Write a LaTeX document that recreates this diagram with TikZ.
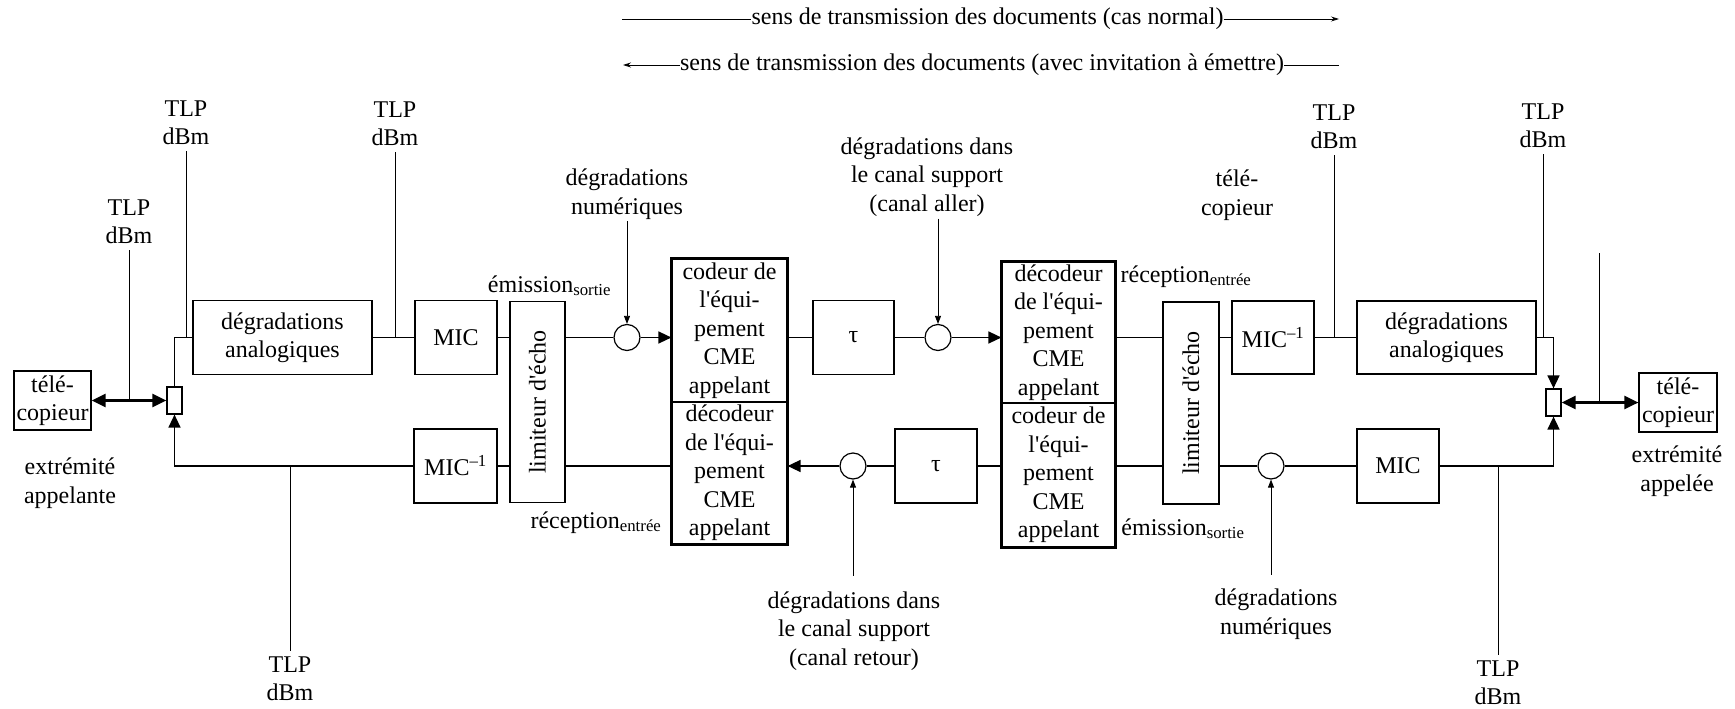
\documentclass[tikz,border=0pt]{standalone}
\usepackage{fontspec}
\setmainfont{Liberation Serif}
\usetikzlibrary{arrows.meta}
\newcommand{\apos}{\textquotesingle}

\begin{document}
\begin{tikzpicture}[x=1pt, y=-1pt,
        every node/.style={font=\fontsize{24}{28.5}\selectfont, align=center, inner sep=2pt},
        caja/.style={draw, line width=1.2pt, inner sep=0pt},
        suma/.style={draw, circle, line width=1.2pt, minimum size=26pt, inner sep=0pt},
        tlp/.style={inner sep=6pt},
        senal/.style={line width=1.5pt},
        fina/.style={line width=0.8pt},
        punta/.style={-{Triangle[length=13pt, width=12pt]}},
        puntita/.style={-{Triangle[length=8pt, width=6pt]}},
        doble/.style={line width=2.5pt, {Triangle[length=14pt, width=13pt]}-{Triangle[length=14pt, width=13pt]}},
        cme/.style={line width=3.5pt}]
        % Definiciones
        \def\filaA{337.5}
        \def\filaB{466}
        \useasboundingbox (0,0) rectangle (1735,709);
        % Sentido de transmision
        \node[inner sep=0pt] (sensNormal) at (987.5,19) {sens de transmission des documents (cas normal)};
        \coordinate (sensNormalA) at (622,19);
        \coordinate (sensNormalB) at (1339,19);
        \draw[fina] (sensNormalA) -- (sensNormal.west);
        \draw[fina, -{Stealth[length=8pt, width=5pt]}] (sensNormal.east) -- (sensNormalB);
        \node[inner sep=0pt] (sensInvit) at (982,65) {sens de transmission des documents (avec invitation à émettre)};
        \coordinate (sensInvitA) at (623,65);
        \coordinate (sensInvitB) at (1339,65);
        \draw[fina, -{Stealth[length=8pt, width=5pt]}] (sensInvit.west) -- (sensInvitA);
        \draw[fina] (sensInvit.east) -- (sensInvitB);
        % Extremo llamante
        \node[caja, minimum width=77pt, minimum height=59pt] (faxG) at (52.5,400.5) {télé-\\copieur};
        \node (extrG) at (70,483) {extrémité\\appelante};
        \node[caja, minimum width=15pt, minimum height=27pt] (hybG) at (174.5,400.5) {};
        \draw[doble] (faxG.east) -- (hybG.west);
        \node[caja, minimum width=179pt, minimum height=74pt] (degG) at (282.5,\filaA) {dégradations\\analogiques};
        \node[caja, minimum width=82pt, minimum height=74pt] (micG) at (456,\filaA) {MIC};
        \node[caja, minimum width=83pt, minimum height=74pt] (micInvG) at (455.5,\filaB) {MIC\textsuperscript{–1}};
        \node[caja, minimum width=55pt, minimum height=201pt] (limG) at (537.5,402) {};
        \node[rotate=90] at (limG) {limiteur d\apos écho};
        \node[anchor=base] (emisG) at (549.5,292) {émission\textsubscript{sortie}};
        \node[anchor=base] (recG) at (596,528) {réception\textsubscript{entrée}};
        % Equipo CME llamante
        \node[caja, minimum width=115pt, minimum height=143pt] (codG) at (729.5,330.5) {codeur de\\l\apos équi-\\pement\\CME\\appelant};
        \node[caja, minimum width=115pt, minimum height=142pt] (decG) at (729.5,473) {décodeur\\de l\apos équi-\\pement\\CME\\appelant};
        \draw[cme] (codG.north west) rectangle (decG.south east);
        \node[suma] (cirH1) at (627,\filaA) {};
        \node (numG) at (627,194) {dégradations\\numériques};
        \draw[fina, puntita] (numG.south) -- (cirH1.north);
        % Canal soporte
        \node[caja, minimum width=81pt, minimum height=74pt] (tauH) at (853.5,\filaA) {τ};
        \node[suma] (cirH2) at (938,\filaA) {};
        \node (canalAller) at (927,177) {dégradations dans\\le canal support\\(canal aller)};
        \draw[fina, puntita] (canalAller.south -| cirH2) -- (cirH2.north);
        \node[caja, minimum width=82pt, minimum height=74pt] (tauB) at (936,\filaB) {τ};
        \node[suma] (cirB1) at (853,\filaB) {};
        \node[outer ysep=14pt] (canalRetour) at (854,631) {dégradations dans\\le canal support\\(canal retour)};
        \draw[fina, puntita] (canalRetour.north -| cirB1) -- (cirB1.south);
        % Equipo CME llamado
        \node[caja, minimum width=113pt, minimum height=141pt] (decD) at (1058.5,332.5) {décodeur\\de l\apos équi-\\pement\\CME\\appelant};
        \node[caja, minimum width=113pt, minimum height=144pt] (codD) at (1058.5,475) {codeur de\\l\apos équi-\\pement\\CME\\appelant};
        \draw[cme] (decD.north west) rectangle (codD.south east);
        \node[caja, minimum width=56pt, minimum height=202pt] (limD) at (1191,403) {};
        \node[rotate=90] at (limD) {limiteur d\apos écho};
        \node[anchor=base] (recD) at (1186,282) {réception\textsubscript{entrée}};
        \node[anchor=base] (emisD) at (1183,535) {émission\textsubscript{sortie}};
        \node (copieurD) at (1237,195) {télé-\\copieur};
        \node[suma] (cirB2) at (1271,\filaB) {};
        \node[outer ysep=12pt] (numD) at (1276,614) {dégradations\\numériques};
        \draw[fina, puntita] (numD.north -| cirB2) -- (cirB2.south);
        % Extremo llamado
        \node[caja, minimum width=82pt, minimum height=73pt] (micInvD) at (1273,\filaA) {MIC\textsuperscript{–1}};
        \node[caja, minimum width=179pt, minimum height=73pt] (degD) at (1446.5,\filaA) {dégradations\\analogiques};
        \node[caja, minimum width=82pt, minimum height=74pt] (micD) at (1398,\filaB) {MIC};
        \node[caja, minimum width=15pt, minimum height=27pt] (hybD) at (1553.5,402.5) {};
        \node[caja, minimum width=78pt, minimum height=59pt] (faxD) at (1678,402.5) {télé-\\copieur};
        \node (extrD) at (1677,471) {extrémité\\appelée};
        \draw[doble] (hybD.east) -- (faxD.west);
        % Via de ida
        \draw[senal] (hybG.north) |- (degG.west);
        \draw[senal] (degG.east) -- (micG.west);
        \draw[senal] (micG.east) -- (limG.west |- micG.east);
        \draw[senal] (limG.east |- cirH1) -- (cirH1.west);
        \draw[senal, punta] (cirH1.east) -- (cirH1.east -| codG.west);
        \draw[senal] (codG.east |- tauH) -- (tauH.west);
        \draw[senal] (tauH.east) -- (cirH2.west);
        \draw[senal, punta] (cirH2.east) -- (cirH2.east -| decD.west);
        \draw[senal] (decD.east |- micInvD) -- (limD.west |- micInvD);
        \draw[senal] (limD.east |- micInvD) -- (micInvD.west);
        \draw[senal] (micInvD.east) -- (degD.west);
        \draw[senal, punta] (degD.east) -| (hybD.north);
        % Via de retorno
        \draw[senal, punta] (micD.east) -| (hybD.south);
        \draw[senal] (cirB2.east) -- (micD.west);
        \draw[senal] (limD.east |- cirB2) -- (cirB2.west);
        \draw[senal] (codD.east |- cirB2) -- (limD.west |- cirB2);
        \draw[senal] (codD.west |- tauB) -- (tauB.east);
        \draw[senal] (tauB.west) -- (cirB1.east);
        \draw[senal, punta] (cirB1.west) -- (cirB1.west -| decG.east);
        \draw[senal] (decG.west |- micInvG) -- (limG.east |- micInvG);
        \draw[senal] (limG.west |- micInvG) -- (micInvG.east);
        \draw[senal, punta] (micInvG.west) -| (hybG.south);
        % Puntos de medida
        \node[tlp] (tlp1) at (129,222) {TLP\\dBm};
        \draw[fina] (tlp1.south) -- (tlp1.south |- faxG.east);
        \node[tlp] (tlp2) at (186,123) {TLP\\dBm};
        \draw[fina] (tlp2.south) -- (tlp2.south |- degG.west);
        \node[tlp] (tlp3) at (395,124) {TLP\\dBm};
        \draw[fina] (tlp3.south) -- (tlp3.south |- micG.west);
        \node[tlp] (tlp4) at (1334,127) {TLP\\dBm};
        \draw[fina] (tlp4.south) -- (tlp4.south |- degD.west);
        \node[tlp] (tlp5) at (1543,126) {TLP\\dBm};
        \draw[fina] (tlp5.south) -- (tlp5.south |- degD.east);
        \coordinate (marqueD) at (1599,253);
        \draw[fina] (marqueD) -- (marqueD |- faxD.west);
        \node[tlp] (tlp6) at (290,679) {TLP\\dBm};
        \draw[fina] (tlp6.north) -- (tlp6.north |- micInvG.west);
        \node[tlp] (tlp7) at (1498,683) {TLP\\dBm};
        \draw[fina] (tlp7.north) -- (tlp7.north |- micD.east);
    \end{tikzpicture}
\end{document}
